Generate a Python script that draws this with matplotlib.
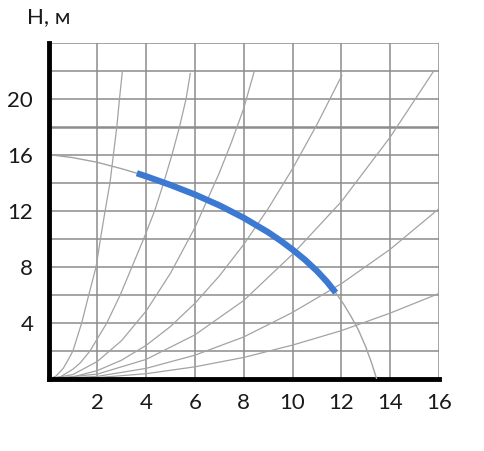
import matplotlib.pyplot as plt

# -------------------------------
# Data
# -------------------------------
# pump curve H(Q)
pump_q = [0.2, 1, 2, 3, 3.62, 4, 5, 6, 7, 8, 9, 9.5, 10, 10.5, 11, 11.4, 11.77,
          12.1, 12.4, 12.7, 13.0, 13.25, 13.45]
pump_h = [15.97, 15.79, 15.46, 15.0, 14.68, 14.46, 13.84, 13.16, 12.39, 11.5, 10.47, 9.88, 9.23,
          8.52, 7.71, 6.96, 6.16, 5.33, 4.46, 3.5, 2.3, 1.1, 0.0]
work_from, work_to = 3.62, 11.77

# system curves (from origin)
sys1_q = [0, 0.3, 0.6, 0.8, 1.0, 1.36, 1.65, 1.95, 2.13, 2.32, 2.52, 2.66, 2.80, 2.91, 3.03]
sys1_h = [0, 0.2, 0.75, 1.35, 2, 4, 6, 8, 10, 12, 14, 16, 18, 20, 22]
sys2_q = [0, 0.5, 1.0, 1.3, 1.70, 2.39, 2.94, 3.42, 3.9, 4.35, 4.72, 5.06, 5.37, 5.64, 5.81]
sys2_h = [0, 0.17, 0.7, 1.15, 2, 4, 6, 8, 10, 12, 14, 16, 18, 20, 21.8]
sys3_q = [0, 1, 2, 3, 4, 5, 6, 7, 7.5, 8, 8.44]
sys3_h = [0, 0.32, 1.25, 2.75, 4.85, 7.55, 10.8, 14.7, 16.9, 19.3, 22.0]
sys4_q = [0, 1, 2, 3, 4, 5, 6, 7, 8, 9, 10, 11, 12.02]
sys4_h = [0, 0.15, 0.6, 1.35, 2.4, 3.75, 5.4, 7.35, 9.6, 12.15, 15.0, 18.15, 21.65]
sys5_q = [0, 2, 4, 6, 8, 10, 12, 14, 15.78]
sys5_h = [0, 0.35, 1.4, 3.15, 5.6, 8.9, 12.65, 17.25, 21.95]
sys6_q = [0, 2, 4, 6, 8, 10, 12, 14, 16]
sys6_h = [0, 0.19, 0.76, 1.7, 3.0, 4.75, 6.8, 9.25, 12.15]
sys7_q = [0, 2, 4, 6, 8, 10, 12, 14, 16]
sys7_h = [0, 0.1, 0.38, 0.87, 1.54, 2.42, 3.45, 4.7, 6.1]

x_ticks = [2, 4, 6, 8, 10, 12, 14, 16]
y_ticks = [4, 8, 12, 16, 20]

# -------------------------------
# Figure
# -------------------------------
plt.rcParams['font.family'] = ['Lato', 'DejaVu Sans']

fig = plt.figure(figsize=(4.85, 4.51), dpi=100)
ax = fig.add_axes([0.1, 0.1596, 0.805, 0.746])
ax.set_xlim(0, 16)
ax.set_ylim(0, 24)

grid_col = '#8c8c8c'
for q in range(2, 17, 2):
    ax.axvline(q, color=grid_col, lw=1.1, zorder=1)
for h in range(2, 25, 2):
    ax.axhline(h, color=grid_col, lw=1.8 if h == 18 else 1.1, zorder=1)

curve_col = '#a3a3a3'
for qs, hs in [(sys1_q, sys1_h), (sys2_q, sys2_h), (sys3_q, sys3_h), (sys4_q, sys4_h),
               (sys5_q, sys5_h), (sys6_q, sys6_h), (sys7_q, sys7_h)]:
    ax.plot(qs, hs, color=curve_col, lw=0.9, zorder=2)

ax.plot(pump_q, pump_h, color=curve_col, lw=1.0, zorder=3)
wq = [q for q in pump_q if work_from <= q <= work_to]
wh = [h for q, h in zip(pump_q, pump_h) if work_from <= q <= work_to]
ax.plot(wq, wh, color='#3c79d2', lw=4.5, solid_capstyle='butt',
        solid_joinstyle='round', zorder=4)

for side in ['top', 'right']:
    ax.spines[side].set_visible(False)
ax.spines['left'].set_linewidth(3.5)
ax.spines['bottom'].set_linewidth(3.5)
ax.spines['left'].set_color('black')
ax.spines['bottom'].set_color('black')

ax.set_xticks(x_ticks)
ax.set_yticks(y_ticks)
ax.tick_params(length=0, labelsize=16, colors='#1a1a1a')
ax.tick_params(axis='x', pad=10)
ax.tick_params(axis='y', pad=11)

fig.text(0.1, 0.962, 'H, м', ha='center', va='center', fontsize=16, color='#1a1a1a')

plt.savefig('out.png', dpi=100)
